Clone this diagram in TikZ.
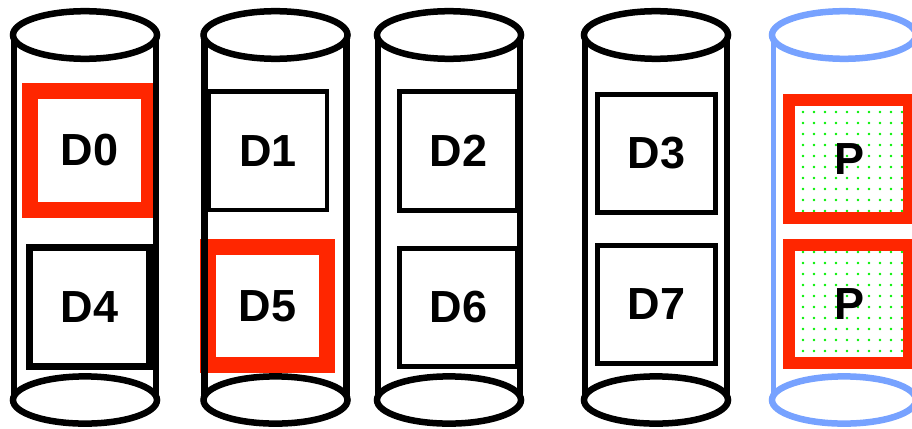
\documentclass[tikz,border=0pt]{standalone}
\usepackage{fontspec}
\setmainfont{Liberation Sans}
\usepackage{tikz}
\usepackage{xcolor}
\definecolor{lost}{RGB}{255,38,0}
\definecolor{sky}{RGB}{119,162,255}
\definecolor{speck}{RGB}{0,240,0}

\begin{document}
\begin{tikzpicture}[x=1pt,y=-1pt,
    block/.style={draw,line width=5pt,minimum width=117.5pt,minimum height=118pt,
                  inner sep=0pt,font=\fontsize{45}{45}\selectfont\bfseries},
    failed/.style={block,draw=lost,line width=16pt},
    parity/.style={block,draw=lost,line width=12pt},
    disk/.style={line width=6.5pt}]
    \useasboundingbox (0,0) rectangle (912,428);

    \foreach \px in {803,814,...,902}
        \foreach \py in {112,123,...,211,252,263,...,351}
            \fill[speck] (\px,\py) circle[radius=1.3pt];

    \node[failed,minimum width=119pt,minimum height=119pt] (d0) at (89.5,150.5) {\raisebox{-2pt}{D0}};
    \node[block,line width=7pt,minimum width=119.5pt,minimum height=118.5pt] (d4) at (89.3,306.8) {\raisebox{-2pt}{D4}};
    \node[block,line width=4.5pt,minimum width=118pt,minimum height=118.5pt] (d1) at (268,150.8) {\raisebox{-2pt}{D1}};
    \node[failed,minimum width=119pt] (d5) at (267.5,306) {\raisebox{-2pt}{D5}};
    \node[block,minimum height=119pt] (d2) at (458.3,151) {\raisebox{-2pt}{D2}};
    \node[block] (d6) at (458.3,307) {\raisebox{-2pt}{D6}};
    \node[block] (d3) at (656.3,153.5) {\raisebox{-2pt}{D3}};
    \node[block,minimum height=118.5pt] (d7) at (656.3,304.3) {\raisebox{-2pt}{D7}};
    \node[parity,minimum width=120pt] (p1) at (849,159) {\raisebox{-2pt}{P}};
    \node[parity,minimum width=120pt,minimum height=118.5pt] (p2) at (849,303.8) {\raisebox{-2pt}{P}};

    \foreach \cx/\col/\lw in {85/black/6.5,275.5/black/6.5,449/black/6.5,656/black/6.5,844/sky/5} {
        \draw[disk,\col,line width=\lw pt] (\cx-71,35) -- (\cx-71,400);
        \draw[disk,\col,line width=\lw pt] (\cx+71,35) -- (\cx+71,400);
        \draw[disk,\col,fill=white] (\cx,35) ellipse[x radius=72,y radius=23.8];
        \draw[disk,\col,fill=white] (\cx,400) ellipse[x radius=72,y radius=23.6];
    }
\end{tikzpicture}
\end{document}
